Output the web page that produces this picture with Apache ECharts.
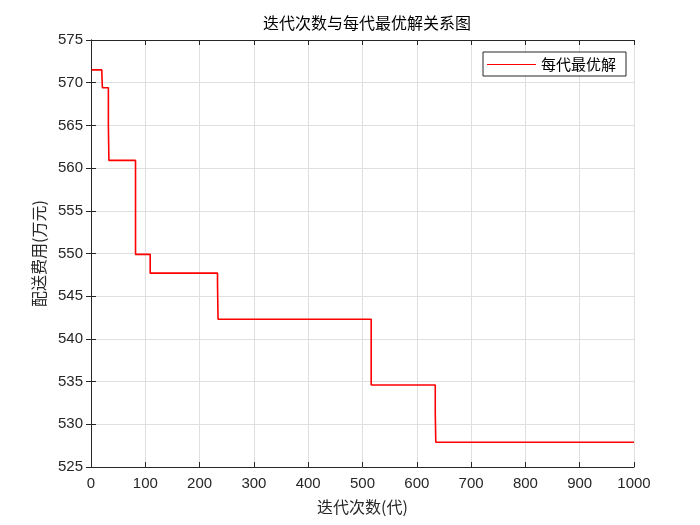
<!DOCTYPE html>
<html>
<head>
<meta charset="utf-8">
<script src="https://cdn.jsdelivr.net/npm/echarts@6/dist/echarts.min.js"></script>
<style>
html,body{margin:0;padding:0;background:#fff;}
#c{width:700px;height:525px;}
</style>
</head>
<body>
<div id="c"></div>
<script>
// Change points of the best-per-generation curve (generation, cost)
var generations = [1, 20, 21, 32, 33, 82, 109, 233, 234, 516, 634, 635, 1000];
var bestCost = [571.5, 571.0, 569.4, 565.0, 560.9, 549.9, 547.7, 546.4, 542.3, 534.6, 531.3, 527.9, 527.9];
var xTicks = [0, 100, 200, 300, 400, 500, 600, 700, 800, 900, 1000];
var yTicks = [525, 530, 535, 540, 545, 550, 555, 560, 565, 570, 575];
var titleText = '迭代次数与每代最优解关系图';
var xName = '迭代次数(代)';
var yName = '配送费用(万元)';
var seriesName = '每代最优解';

var data = generations.map(function (g, i) { return [g, bestCost[i]]; });
var axisColor = '#262626';
var cjk = "'Noto Sans CJK SC', sans-serif";
var latin = "'Liberation Sans', Arial, sans-serif";

var chart = echarts.init(document.getElementById('c'), null, {renderer: 'canvas'});
chart.setOption({
  backgroundColor: '#fff',
  animation: false,
  title: {
    text: titleText,
    left: 362, top: 10, textAlign: 'center',
    textStyle: {fontFamily: cjk, fontSize: 16, fontWeight: 'normal', color: '#000'}
  },
  legend: {
    data: [seriesName],
    left: 483, top: 52,
    orient: 'vertical',
    backgroundColor: '#fff',
    borderColor: '#262626', borderWidth: 1, borderRadius: 0,
    padding: [5, 10, 4, 4],
    icon: 'rect', itemWidth: 49, itemHeight: 1, itemGap: 4,
    itemStyle: {color: '#ff0000'},
    textStyle: {fontFamily: cjk, fontSize: 15, color: '#000', padding: [0, 0, 0, 0]}
  },
  grid: {left: 91, right: 66, top: 40, bottom: 58, containLabel: false},
  xAxis: [{
    type: 'value', min: xTicks[0], max: xTicks[xTicks.length - 1], interval: 100,
    name: xName, nameLocation: 'middle', nameGap: 32,
    nameTextStyle: {fontFamily: cjk, fontSize: 16, color: axisColor},
    axisLine: {show: true, lineStyle: {color: axisColor, width: 1}},
    axisTick: {show: true, inside: true, length: 5, lineStyle: {color: axisColor}},
    axisLabel: {fontFamily: latin, fontSize: 15, color: axisColor, margin: 9,
      formatter: function (v) { return String(v); }},
    splitLine: {show: true, lineStyle: {color: '#dfdfdf', width: 1}}
  }, {
    type: 'value', position: 'top', min: 0, max: 1000, interval: 100,
    axisLine: {show: true, lineStyle: {color: axisColor, width: 1}},
    axisTick: {show: true, inside: true, length: 5, lineStyle: {color: axisColor}},
    axisLabel: {show: false}, splitLine: {show: false}
  }],
  yAxis: [{
    type: 'value', min: yTicks[0], max: yTicks[yTicks.length - 1], interval: 5,
    name: yName, nameLocation: 'middle', nameGap: 44, nameRotate: 90,
    nameTextStyle: {fontFamily: cjk, fontSize: 16, color: axisColor},
    axisLine: {show: true, lineStyle: {color: axisColor, width: 1}},
    axisTick: {show: true, inside: true, length: 5, lineStyle: {color: axisColor}},
    axisLabel: {fontFamily: latin, fontSize: 15, color: axisColor, margin: 8,
      formatter: function (v) { return String(v); }},
    splitLine: {show: true, lineStyle: {color: '#dfdfdf', width: 1}}
  }, {
    type: 'value', position: 'right', min: 525, max: 575, interval: 5,
    axisLine: {show: true, lineStyle: {color: axisColor, width: 1}},
    axisTick: {show: true, inside: true, length: 5, lineStyle: {color: axisColor}},
    axisLabel: {show: false}, splitLine: {show: false}
  }],
  series: [{
    name: seriesName,
    type: 'line',
    step: 'end',
    data: data,
    symbol: 'none',
    lineStyle: {color: '#ff0000', width: 1.6},
    itemStyle: {color: '#ff0000'}
  }]
});
</script>
</body>
</html>
